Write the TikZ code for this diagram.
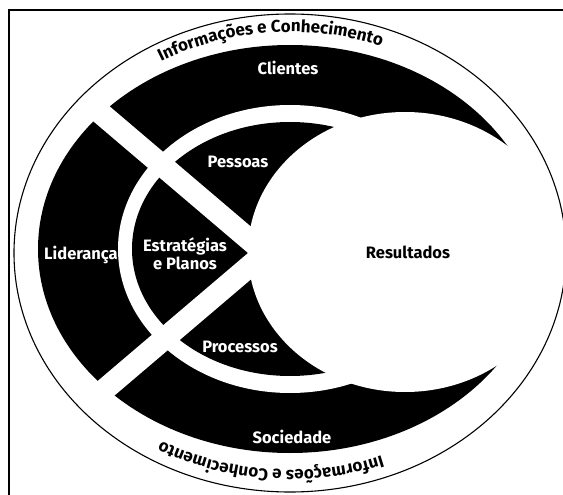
\documentclass[tikz,border=0pt]{standalone}
\usepackage{fontspec}
\setmainfont{Fira Sans}
\usetikzlibrary{decorations.text}
\newcommand\arcfont{\bfseries\fontsize{17}{17}\selectfont}
\begin{document}
\begin{tikzpicture}[x=1pt,y=1pt,
  lbl/.style={text=white, font=\bfseries\fontsize{16.5}{18}\selectfont, align=center, inner sep=0pt},
  sep/.style={white, line width=22pt},
  arctext/.style={decorate, decoration={text along path, text align=center, text={|\arcfont|Informações e Conhecimento}}}]
\useasboundingbox (0,0) rectangle (563,-495);
\fill[white] (0,0) rectangle (563,-495);
% frame
\draw[line width=1.2pt] (9,-495) -- (9,-10) -- (563,-10);
% bands
\fill[black] (290,-249) ellipse [x radius=252, y radius=204];
\fill[white] (290,-249) ellipse [x radius=172, y radius=144];
\fill[black] (290,-249) ellipse [x radius=158, y radius=127];
\fill[white] (405,-252) ellipse [x radius=157, y radius=140];
% separators
\coordinate (hub) at (265,-253);
\draw[sep] (hub) -- ++(139.6:280);
\draw[sep] (hub) -- ++(-139.6:280);
% outer line
\draw[line width=1.1pt] (290,-253) ellipse [x radius=276, y radius=239];
% arc texts
\path[arctext] (290,-253) ++(152:258 and 221) arc[start angle=152, end angle=38, x radius=258, y radius=221];
\path[arctext] (290,-253) ++(-38:258 and 217) arc[start angle=-38, end angle=-152, x radius=258, y radius=217];
% labels
\node[lbl] (cli) at (288,-68) {Clientes};
\node[lbl] (pes) at (238,-162) {Pessoas};
\node[lbl] (lid) at (81,-255) {Liderança};
\node[lbl] (est) at (185,-254) {Estratégias\\e Planos};
\node[lbl] (pro) at (240,-347) {Processos};
\node[lbl] (soc) at (292,-437) {Sociedade};
\node[lbl, text=black] (res) at (408,-252) {Resultados};
\end{tikzpicture}
\end{document}
